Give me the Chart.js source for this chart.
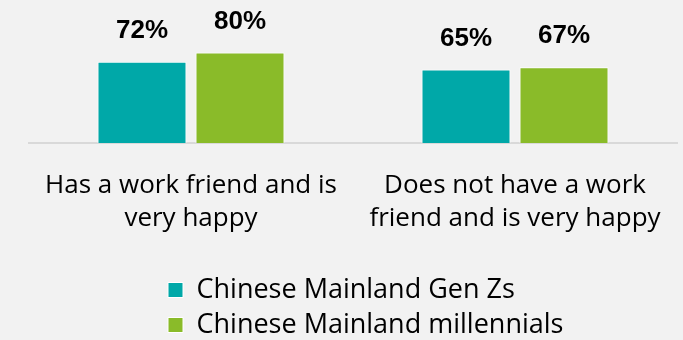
<!DOCTYPE html>
<html><head><meta charset="utf-8">
<script src="https://cdn.jsdelivr.net/npm/chart.js@4"></script>
<style>
html,body{margin:0;padding:0;background:#F2F2F2;}
#wrap{width:683px;height:340px;position:relative;}
</style>
</head><body>
<div id="wrap"><canvas id="c"></canvas></div>
<script>
const categories = [["Has a work friend and is", "very happy"], ["Does not have a work", "friend and is very happy"]];
const seriesNames = ["Chinese Mainland Gen Zs", "Chinese Mainland millennials"];
const genZValues = [72, 65];
const millennialValues = [80, 67];

const valueLabels = {
  id: 'valueLabels',
  afterDatasetsDraw(chart) {
    const ctx = chart.ctx;
    ctx.save();
    ctx.font = 'bold 26px "Liberation Sans", Arial, sans-serif';
    ctx.fillStyle = '#000000';
    ctx.textAlign = 'center';
    ctx.textBaseline = 'middle';
    chart.data.datasets.forEach((ds, di) => {
      chart.getDatasetMeta(di).data.forEach((bar, i) => {
        ctx.fillText(ds.data[i] + '%', bar.x, bar.y - 31);
      });
    });
    ctx.restore();
  }
};

const legendPlacer = {
  id: 'legendPlacer',
  beforeDraw(chart) {
    const lg = chart.legend;
    if (lg) {
      lg.left = 160; lg.right = 683;
      lg.top = 268.5; lg.bottom = 340;
    }
  }
};

new Chart(document.getElementById('c'), {
  type: 'bar',
  data: {
    labels: categories,
    datasets: [
      { label: seriesNames[0], data: genZValues, backgroundColor: '#00A8A8', borderColor: '#FFFFFF', borderWidth: 1 },
      { label: seriesNames[1], data: millennialValues, backgroundColor: '#8ABB29', borderColor: '#FFFFFF', borderWidth: 1 }
    ]
  },
  options: {
    responsive: true,
    maintainAspectRatio: false,
    animation: false,
    devicePixelRatio: 1,
    categoryPercentage: 0.605,
    barPercentage: 0.908,
    layout: { padding: { left: 29, right: 6, top: 30, bottom: 24.5 } },
    scales: {
      x: {
        grid: { display: false, drawTicks: false },
        border: { display: true, color: '#D9D9D9', width: 2 },
        ticks: { padding: 26, color: '#000000', maxRotation: 0, autoSkip: false,
          font: { family: '"Open Sans", sans-serif', size: 26, lineHeight: 1.27 } },
        afterFit(scale) { scale.height = 92.5; scale.paddingLeft = 0; scale.paddingRight = 0; }
      },
      y: { display: false, min: 0, max: 100 }
    },
    plugins: {
      legend: {
        position: 'bottom',
        align: 'start',
        labels: { boxWidth: 15, boxHeight: 15, padding: 8, color: '#000000',
          font: { family: '"Open Sans", sans-serif', size: 27 } }
      },
      tooltip: { enabled: false },
      title: { display: false }
    }
  },
  plugins: [valueLabels, legendPlacer]
});
</script>
</body></html>
